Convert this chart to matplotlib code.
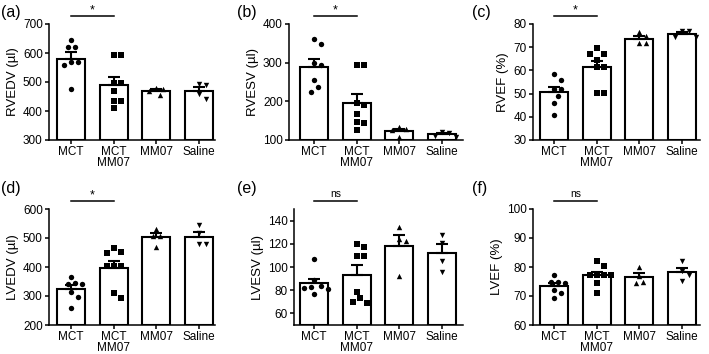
import numpy as np
import matplotlib
matplotlib.use("Agg")
import matplotlib.pyplot as plt

plt.rcParams['font.family'] = ['Liberation Sans', 'DejaVu Sans']

groups = ["MCT", "MCT\nMM07", "MM07", "Saline"]
markers = ["o", "s", "^", "v"]

# individual animals per group
rvedv = [[645, 622, 622, 570, 559, 570, 475],
         [593, 593, 498, 495, 470, 436, 436, 409],
         [478, 455, 470, 476],
         [493, 490, 440, 458]]
rvesv = [[362, 348, 294, 299, 256, 238, 225],
         [294, 294, 195, 190, 167, 146, 143, 127],
         [133, 128, 126, 109],
         [118, 121, 110, 108]]
rvef = [[58.3, 55.9, 52.0, 52.0, 49.1, 46.1, 40.8],
        [69.5, 67.1, 67.1, 64.5, 61.3, 61.3, 50.1, 50.1],
        [76.4, 71.7, 71.7, 75.0],
        [77.0, 77.0, 74.5, 74.5]]
lvedv = [[367, 346, 341, 341, 315, 295, 258],
         [465, 447, 451, 403, 403, 403, 309, 292],
         [530, 507, 507, 470],
         [545, 479, 479, 517]]
lvesv = [[107, 84, 83, 82, 81, 77, 89],
         [120, 117, 109.5, 109.5, 78.7, 73, 69.2, 70],
         [134.8, 124, 122.7, 92.2],
         [127.6, 120.5, 105.5, 96]]
lvef = [[77.2, 74.9, 74.9, 74.4, 72.1, 71.1, 69.2],
        [82.2, 80.3, 77.2, 77.2, 77.2, 77.2, 74.4, 71.1],
        [80.1, 74.4, 74.9, 77.0],
        [82.2, 78.7, 77.2, 75.3]]

panels = [
    ("(a)", "RVEDV (µl)", rvedv, (300, 700), np.arange(300, 701, 100), "*"),
    ("(b)", "RVESV (µl)", rvesv, (100, 400), np.arange(100, 401, 100), "*"),
    ("(c)", "RVEF (%)", rvef, (30, 80), np.arange(30, 81, 10), "*"),
    ("(d)", "LVEDV (µl)", lvedv, (200, 600), np.arange(200, 601, 100), "*"),
    ("(e)", "LVESV (µl)", lvesv, (50, 150), np.arange(60, 141, 20), "ns"),
    ("(f)", "LVEF (%)", lvef, (60, 100), np.arange(60, 101, 10), "ns"),
]

# pixel layout: (axis left, axis right, first bar centre)
W, H = 709, 354
cols = [(49, 215, 71), (289, 463, 314), (533, 700, 554)]
cols_bottom = [(49, 215, 71), (294, 463, 314), (533, 700, 554)]
rows = [(24, 140), (209, 325)]
step = 42.7  # px between bar centres


def swarm(ax, x0, vals, dpx=7.0):
    """Spread points sideways so they don't overlap (pixel space)."""
    ys = [ax.transData.transform((0, v))[1] for v in vals]
    placed = []
    offs = [0.0] * len(vals)
    order = np.argsort(vals)[::-1]
    for i in order:
        k = 0
        while True:
            cands = [0.0] if k == 0 else [k * dpx * 0.5, -k * dpx * 0.5]
            ok = None
            for c in cands:
                if all((c - px) ** 2 + (ys[i] - py) ** 2 >= dpx ** 2 for px, py in placed):
                    ok = c
                    break
            if ok is not None:
                offs[i] = ok
                placed.append((ok, ys[i]))
                break
            k += 1
    return [x0 + o / step for o in offs]


fig = plt.figure(figsize=(W / 100, H / 100), dpi=100)

for n, (tag, ylab, data, ylim, yt, sig) in enumerate(panels):
    r = n // 3
    L, R, c0 = (cols if r == 0 else cols_bottom)[n % 3]
    top, bot = rows[r]
    ax = fig.add_axes([L / W, 1 - bot / H, (R - L) / W, (bot - top) / H])

    x = np.arange(4)
    means = [np.mean(d) for d in data]
    sems = [np.std(d, ddof=1) / np.sqrt(len(d)) for d in data]

    ax.set_xlim((L - c0) / step, (R - c0) / step)
    ax.set_ylim(*ylim)
    ax.bar(x, np.array(means) - ylim[0], bottom=ylim[0], width=0.66,
           color="white", edgecolor="black", linewidth=1.5, zorder=1)
    ax.errorbar(x, means, yerr=[[0] * 4, sems], fmt="none", ecolor="black",
                elinewidth=1.5, capsize=4.5, capthick=1.5, zorder=2)
    for i, d in enumerate(data):
        xs = swarm(ax, x[i], d)
        ax.scatter(xs, d, marker=markers[i], s=15, color="black",
                   linewidths=0, zorder=3, clip_on=False)

    ax.set_xticks(x)
    ax.set_xticklabels(groups, fontsize=8.5, linespacing=0.95)
    ax.set_yticks(yt)
    ax.tick_params(axis="y", labelsize=8.5, length=3, width=1.1, pad=1.5)
    ax.tick_params(axis="x", length=3, width=1.1, pad=1)
    ax.set_ylabel(ylab, fontsize=9.5, labelpad=3)
    for s in ["top", "right"]:
        ax.spines[s].set_visible(False)
    for s in ["left", "bottom"]:
        ax.spines[s].set_linewidth(1.1)

    # significance bar between MCT and MCT/MM07
    ax.plot([0, 1], [1.07, 1.07], color="black", lw=1.1,
            transform=ax.get_xaxis_transform(), clip_on=False)
    if sig == "*":
        ax.text(0.5, 1.065, "*", ha="center", va="bottom", fontsize=9,
                transform=ax.get_xaxis_transform())
    else:
        ax.text(0.5, 1.09, "ns", ha="center", va="bottom", fontsize=7.5,
                transform=ax.get_xaxis_transform())

    lab_x = [1, 237, 472][n % 3]
    lab_y = [13, 188][r]
    fig.text(lab_x / W, 1 - lab_y / H, tag, fontsize=11.5, va="center", ha="left")

fig.savefig("out.png", dpi=100)
